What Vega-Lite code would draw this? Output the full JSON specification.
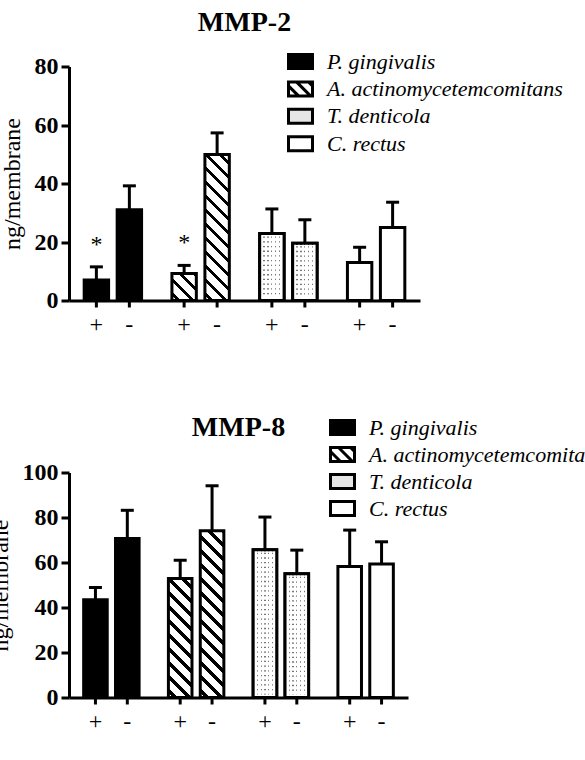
{
  "$schema": "https://vega.github.io/schema/vega-lite/v6.json",
  "background": "white",
  "padding": {"left": -12, "top": 8.5, "right": 0, "bottom": 0},
  "config": {"view": {"stroke": null}, "font": "Liberation Serif"},
  "datasets": {
    "mmp2": [
      {"species": "P. gingivalis", "treat": "+", "value": 7.0, "hi": 11.5, "sig": "*"},
      {"species": "P. gingivalis", "treat": "-", "value": 31.0, "hi": 39.2, "sig": ""},
      {"species": "A. actinomycetemcomitans", "treat": "+", "value": 9.2, "hi": 12.0, "sig": "*"},
      {"species": "A. actinomycetemcomitans", "treat": "-", "value": 49.9, "hi": 57.3, "sig": ""},
      {"species": "T. denticola", "treat": "+", "value": 22.9, "hi": 31.3, "sig": ""},
      {"species": "T. denticola", "treat": "-", "value": 19.6, "hi": 27.6, "sig": ""},
      {"species": "C. rectus", "treat": "+", "value": 13.0, "hi": 18.2, "sig": ""},
      {"species": "C. rectus", "treat": "-", "value": 25.0, "hi": 33.6, "sig": ""}
    ],
    "mmp8": [
      {"species": "P. gingivalis", "treat": "+", "value": 43.4, "hi": 48.9, "sig": ""},
      {"species": "P. gingivalis", "treat": "-", "value": 70.7, "hi": 83.2, "sig": ""},
      {"species": "A. actinomycetemcomitans", "treat": "+", "value": 52.9, "hi": 61.0, "sig": ""},
      {"species": "A. actinomycetemcomitans", "treat": "-", "value": 74.1, "hi": 94.1, "sig": ""},
      {"species": "T. denticola", "treat": "+", "value": 65.7, "hi": 80.2, "sig": ""},
      {"species": "T. denticola", "treat": "-", "value": 55.0, "hi": 65.5, "sig": ""},
      {"species": "C. rectus", "treat": "+", "value": 58.2, "hi": 74.4, "sig": ""},
      {"species": "C. rectus", "treat": "-", "value": 59.3, "hi": 69.2, "sig": ""}
    ]
  },
  "spacing": 77,
  "resolve": {"scale": {"x": "independent", "xOffset": "independent", "y": "independent", "fill": "independent", "shape": "independent", "stroke": "independent"}, "legend": {"fill": "independent", "shape": "independent", "stroke": "independent"}},
  "vconcat": [
    {
      "data": {"name": "mmp2"},
      "width": 351,
      "height": 234,
      "title": {"text": "MMP-2", "font": "Liberation Serif", "fontSize": 28, "fontWeight": "bold", "color": "black", "anchor": "middle", "frame": "group", "offset": 13.5},
      "encoding": {
        "x": {"field": "species", "type": "nominal", "sort": ["P. gingivalis", "A. actinomycetemcomitans", "T. denticola", "C. rectus"], "scale": {"paddingInner": 0, "paddingOuter": 0}, "axis": {"title": null, "labels": false, "ticks": false, "domainColor": "black", "domainWidth": 3}},
        "xOffset": {"field": "treat", "type": "nominal", "sort": ["+", "-"], "scale": {"paddingInner": 0.26, "paddingOuter": 0.46}}
      },
      "layer": [
        {
          "mark": {"type": "bar", "stroke": "black", "strokeWidth": 3},
          "encoding": {
            "y": {"field": "value", "type": "quantitative", "scale": {"domain": [0, 80], "nice": false},
              "axis": {"title": "ng/membrane", "titleFont": "Liberation Serif", "titleFontSize": 24, "titleFontWeight": "normal", "titleColor": "black", "titlePadding": 10, "values": [0, 20, 40, 60, 80], "labelFont": "Liberation Serif", "labelFontSize": 24, "labelFontWeight": "bold", "labelColor": "black", "labelPadding": 3, "tickSize": 8, "tickWidth": 3, "tickColor": "black", "domainColor": "black", "domainWidth": 3, "grid": false, "labelFlush": false, "labelOverlap": false}},
            "fill": {
              "condition": [
                {"test": "datum.species === 'P. gingivalis'", "value": "black"},
                {"test": "datum.species === 'A. actinomycetemcomitans' && datum.treat === '+'", "value": {"gradient": "linear", "x1": 0, "y1": 1, "x2": 0.9475, "y2": -0.0476, "stops": [
                  {"offset": 0, "color": "white"},
                  {"offset": 0.0917, "color": "white"}, {"offset": 0.0917, "color": "black"}, {"offset": 0.1815, "color": "black"}, {"offset": 0.1815, "color": "white"},
                  {"offset": 0.3649, "color": "white"}, {"offset": 0.3649, "color": "black"}, {"offset": 0.4546, "color": "black"}, {"offset": 0.4546, "color": "white"},
                  {"offset": 0.6380, "color": "white"}, {"offset": 0.6380, "color": "black"}, {"offset": 0.7278, "color": "black"}, {"offset": 0.7278, "color": "white"},
                  {"offset": 0.9112, "color": "white"}, {"offset": 0.9112, "color": "black"}, {"offset": 1, "color": "black"}]}},
                {"test": "datum.species === 'A. actinomycetemcomitans' && datum.treat === '-'", "value": {"gradient": "linear", "x1": 0, "y1": 1, "x2": 0.1893, "y2": -0.1353, "stops": [
                  {"offset": 0, "color": "white"},
                  {"offset": 0.0276, "color": "white"}, {"offset": 0.0276, "color": "black"}, {"offset": 0.0546, "color": "black"}, {"offset": 0.0546, "color": "white"},
                  {"offset": 0.1098, "color": "white"}, {"offset": 0.1098, "color": "black"}, {"offset": 0.1368, "color": "black"}, {"offset": 0.1368, "color": "white"},
                  {"offset": 0.1920, "color": "white"}, {"offset": 0.1920, "color": "black"}, {"offset": 0.2190, "color": "black"}, {"offset": 0.2190, "color": "white"},
                  {"offset": 0.2742, "color": "white"}, {"offset": 0.2742, "color": "black"}, {"offset": 0.3012, "color": "black"}, {"offset": 0.3012, "color": "white"},
                  {"offset": 0.3564, "color": "white"}, {"offset": 0.3564, "color": "black"}, {"offset": 0.3834, "color": "black"}, {"offset": 0.3834, "color": "white"},
                  {"offset": 0.4386, "color": "white"}, {"offset": 0.4386, "color": "black"}, {"offset": 0.4656, "color": "black"}, {"offset": 0.4656, "color": "white"},
                  {"offset": 0.5208, "color": "white"}, {"offset": 0.5208, "color": "black"}, {"offset": 0.5479, "color": "black"}, {"offset": 0.5479, "color": "white"},
                  {"offset": 0.6031, "color": "white"}, {"offset": 0.6031, "color": "black"}, {"offset": 0.6301, "color": "black"}, {"offset": 0.6301, "color": "white"},
                  {"offset": 0.6853, "color": "white"}, {"offset": 0.6853, "color": "black"}, {"offset": 0.7123, "color": "black"}, {"offset": 0.7123, "color": "white"},
                  {"offset": 0.7675, "color": "white"}, {"offset": 0.7675, "color": "black"}, {"offset": 0.7945, "color": "black"}, {"offset": 0.7945, "color": "white"},
                  {"offset": 0.8497, "color": "white"}, {"offset": 0.8497, "color": "black"}, {"offset": 0.8767, "color": "black"}, {"offset": 0.8767, "color": "white"},
                  {"offset": 0.9319, "color": "white"}, {"offset": 0.9319, "color": "black"}, {"offset": 0.9589, "color": "black"}, {"offset": 0.9589, "color": "white"},
                  {"offset": 1, "color": "white"}]}}
              ],
              "value": "white"
            }
          }
        },
        {
          "transform": [{"filter": "datum.species === 'T. denticola'"}],
          "mark": {"type": "rule", "stroke": "#777777", "strokeWidth": 19, "strokeDash": [1.3, 3.4], "yOffset": 3, "y2Offset": -3},
          "encoding": {"y": {"field": "value", "type": "quantitative"}, "y2": {"datum": 0}}
        },
        {
          "transform": [{"filter": "datum.species === 'T. denticola'"}],
          "mark": {"type": "bar", "stroke": "black", "strokeWidth": 3, "fill": {"gradient": "linear", "x1": 0, "y1": 0, "x2": 1, "y2": 0, "stops": [
            {"offset": 0, "color": "white"},
            {"offset": 0.155, "color": "white"}, {"offset": 0.155, "color": "rgba(255,255,255,0)"}, {"offset": 0.205, "color": "rgba(255,255,255,0)"}, {"offset": 0.205, "color": "white"},
            {"offset": 0.315, "color": "white"}, {"offset": 0.315, "color": "rgba(255,255,255,0)"}, {"offset": 0.365, "color": "rgba(255,255,255,0)"}, {"offset": 0.365, "color": "white"},
            {"offset": 0.475, "color": "white"}, {"offset": 0.475, "color": "rgba(255,255,255,0)"}, {"offset": 0.525, "color": "rgba(255,255,255,0)"}, {"offset": 0.525, "color": "white"},
            {"offset": 0.635, "color": "white"}, {"offset": 0.635, "color": "rgba(255,255,255,0)"}, {"offset": 0.685, "color": "rgba(255,255,255,0)"}, {"offset": 0.685, "color": "white"},
            {"offset": 0.795, "color": "white"}, {"offset": 0.795, "color": "rgba(255,255,255,0)"}, {"offset": 0.845, "color": "rgba(255,255,255,0)"}, {"offset": 0.845, "color": "white"},
            {"offset": 1, "color": "white"}]}},
          "encoding": {"y": {"field": "value", "type": "quantitative"}}
        },
        {
          "mark": {"type": "rule", "stroke": "black", "strokeWidth": 3},
          "encoding": {"y": {"field": "value", "type": "quantitative"}, "y2": {"field": "hi"}}
        },
        {
          "mark": {"type": "tick", "color": "black", "size": 13, "thickness": 3, "opacity": 1},
          "encoding": {"y": {"field": "hi", "type": "quantitative"}}
        },
        {
          "transform": [{"filter": "datum.sig === '*'"}],
          "mark": {"type": "text", "font": "Liberation Serif", "fontSize": 24, "color": "black", "baseline": "middle", "dy": -22},
          "encoding": {"y": {"field": "hi", "type": "quantitative"}, "text": {"field": "sig"}}
        },
        {
          "mark": {"type": "rule", "stroke": "black", "strokeWidth": 3, "y2Offset": 7},
          "encoding": {"y": {"datum": 0, "type": "quantitative"}, "y2": {"datum": 0}}
        },
        {
          "mark": {"type": "text", "font": "Liberation Serif", "fontSize": 24, "color": "black", "baseline": "middle", "dy": 24},
          "encoding": {"y": {"datum": 0, "type": "quantitative"}, "text": {"field": "treat"}}
        },
        {
          "transform": [{"filter": "false"}],
          "mark": {"type": "point", "filled": true, "strokeWidth": 3, "opacity": 1},
          "encoding": {
            "y": {"field": "value", "type": "quantitative"},
            "fill": {"field": "species", "type": "nominal", "scale": {"domain": ["P. gingivalis", "A. actinomycetemcomitans", "T. denticola", "C. rectus"], "range": ["black", "white", "#e6e6e6", "white"]},
              "legend": {"orient": "none", "legendX": 220, "legendY": -16.5, "title": null, "padding": 0, "rowPadding": 0.4, "labelFont": "Liberation Serif", "labelFontSize": 22, "labelFontStyle": "italic", "labelColor": "black", "labelOffset": 15, "labelLimit": 400, "symbolSize": 400, "symbolStrokeColor": "black", "symbolStrokeWidth": 3}},
            "stroke": {"field": "species", "type": "nominal", "scale": {"domain": ["P. gingivalis", "A. actinomycetemcomitans", "T. denticola", "C. rectus"], "range": ["black", "black", "black", "black"]},
              "legend": {"orient": "none", "legendX": 220, "legendY": -16.5, "title": null, "padding": 0, "rowPadding": 0.4, "labelFont": "Liberation Serif", "labelFontSize": 22, "labelFontStyle": "italic", "labelColor": "black", "labelOffset": 15, "labelLimit": 400, "symbolSize": 400, "symbolStrokeColor": "black", "symbolStrokeWidth": 3}},
            "shape": {"field": "species", "type": "nominal", "scale": {"domain": ["P. gingivalis", "A. actinomycetemcomitans", "T. denticola", "C. rectus"], "range": ["M-1.2,-0.7H1.2V0.7H-1.2Z", "M-1.2,-0.7H1.2V0.7H-1.2Z M-1.2,-0.3L-0.2,0.7 M-0.4,-0.7L1,0.7 M0.8,-0.7L1.2,-0.3", "M-1.2,-0.7H1.2V0.7H-1.2Z", "M-1.2,-0.7H1.2V0.7H-1.2Z"]},
              "legend": {"orient": "none", "legendX": 220, "legendY": -16.5, "title": null, "padding": 0, "rowPadding": 0.4, "labelFont": "Liberation Serif", "labelFontSize": 22, "labelFontStyle": "italic", "labelColor": "black", "labelOffset": 15, "labelLimit": 400, "symbolSize": 400, "symbolStrokeColor": "black", "symbolStrokeWidth": 3}}
          }
        }
      ]
    },
    {
      "data": {"name": "mmp8"},
      "width": 339,
      "height": 225,
      "title": {"text": "MMP-8", "font": "Liberation Serif", "fontSize": 28, "fontWeight": "bold", "color": "black", "anchor": "middle", "frame": "group", "offset": -26},
      "encoding": {
        "x": {"field": "species", "type": "nominal", "sort": ["P. gingivalis", "A. actinomycetemcomitans", "T. denticola", "C. rectus"], "scale": {"paddingInner": 0, "paddingOuter": 0}, "axis": {"title": null, "labels": false, "ticks": false, "domainColor": "black", "domainWidth": 3}},
        "xOffset": {"field": "treat", "type": "nominal", "sort": ["+", "-"], "scale": {"paddingInner": 0.26, "paddingOuter": 0.46}}
      },
      "layer": [
        {
          "mark": {"type": "bar", "stroke": "black", "strokeWidth": 3},
          "encoding": {
            "y": {"field": "value", "type": "quantitative", "scale": {"domain": [0, 100], "nice": false},
              "axis": {"title": "ng/membrane", "titleFont": "Liberation Serif", "titleFontSize": 24, "titleFontWeight": "normal", "titleColor": "black", "titlePadding": 10, "values": [0, 20, 40, 60, 80, 100], "labelFont": "Liberation Serif", "labelFontSize": 24, "labelFontWeight": "bold", "labelColor": "black", "labelPadding": 3, "tickSize": 8, "tickWidth": 3, "tickColor": "black", "domainColor": "black", "domainWidth": 3, "grid": false, "labelFlush": false, "labelOverlap": false}},
            "fill": {
              "condition": [
                {"test": "datum.species === 'P. gingivalis'", "value": "black"},
                {"test": "datum.species === 'A. actinomycetemcomitans' && datum.treat === '+'", "value": {"gradient": "linear", "x1": 0, "y1": 1, "x2": 0.2284, "y2": -0.1528, "stops": [
                  {"offset": 0, "color": "white"},
                  {"offset": 0.0330, "color": "white"}, {"offset": 0.0330, "color": "black"}, {"offset": 0.0652, "color": "black"}, {"offset": 0.0652, "color": "white"},
                  {"offset": 0.1311, "color": "white"}, {"offset": 0.1311, "color": "black"}, {"offset": 0.1634, "color": "black"}, {"offset": 0.1634, "color": "white"},
                  {"offset": 0.2293, "color": "white"}, {"offset": 0.2293, "color": "black"}, {"offset": 0.2616, "color": "black"}, {"offset": 0.2616, "color": "white"},
                  {"offset": 0.3275, "color": "white"}, {"offset": 0.3275, "color": "black"}, {"offset": 0.3597, "color": "black"}, {"offset": 0.3597, "color": "white"},
                  {"offset": 0.4257, "color": "white"}, {"offset": 0.4257, "color": "black"}, {"offset": 0.4579, "color": "black"}, {"offset": 0.4579, "color": "white"},
                  {"offset": 0.5238, "color": "white"}, {"offset": 0.5238, "color": "black"}, {"offset": 0.5561, "color": "black"}, {"offset": 0.5561, "color": "white"},
                  {"offset": 0.6220, "color": "white"}, {"offset": 0.6220, "color": "black"}, {"offset": 0.6543, "color": "black"}, {"offset": 0.6543, "color": "white"},
                  {"offset": 0.7202, "color": "white"}, {"offset": 0.7202, "color": "black"}, {"offset": 0.7525, "color": "black"}, {"offset": 0.7525, "color": "white"},
                  {"offset": 0.8184, "color": "white"}, {"offset": 0.8184, "color": "black"}, {"offset": 0.8506, "color": "black"}, {"offset": 0.8506, "color": "white"},
                  {"offset": 0.9166, "color": "white"}, {"offset": 0.9166, "color": "black"}, {"offset": 0.9488, "color": "black"}, {"offset": 0.9488, "color": "white"},
                  {"offset": 1, "color": "white"}]}},
                {"test": "datum.species === 'A. actinomycetemcomitans' && datum.treat === '-'", "value": {"gradient": "linear", "x1": 0, "y1": 1, "x2": 0.1583, "y2": -0.1189, "stops": [
                  {"offset": 0, "color": "white"},
                  {"offset": 0.0247, "color": "white"}, {"offset": 0.0247, "color": "black"}, {"offset": 0.0489, "color": "black"}, {"offset": 0.0489, "color": "white"},
                  {"offset": 0.0983, "color": "white"}, {"offset": 0.0983, "color": "black"}, {"offset": 0.1224, "color": "black"}, {"offset": 0.1224, "color": "white"},
                  {"offset": 0.1718, "color": "white"}, {"offset": 0.1718, "color": "black"}, {"offset": 0.1960, "color": "black"}, {"offset": 0.1960, "color": "white"},
                  {"offset": 0.2454, "color": "white"}, {"offset": 0.2454, "color": "black"}, {"offset": 0.2696, "color": "black"}, {"offset": 0.2696, "color": "white"},
                  {"offset": 0.3190, "color": "white"}, {"offset": 0.3190, "color": "black"}, {"offset": 0.3431, "color": "black"}, {"offset": 0.3431, "color": "white"},
                  {"offset": 0.3925, "color": "white"}, {"offset": 0.3925, "color": "black"}, {"offset": 0.4167, "color": "black"}, {"offset": 0.4167, "color": "white"},
                  {"offset": 0.4661, "color": "white"}, {"offset": 0.4661, "color": "black"}, {"offset": 0.4903, "color": "black"}, {"offset": 0.4903, "color": "white"},
                  {"offset": 0.5397, "color": "white"}, {"offset": 0.5397, "color": "black"}, {"offset": 0.5638, "color": "black"}, {"offset": 0.5638, "color": "white"},
                  {"offset": 0.6132, "color": "white"}, {"offset": 0.6132, "color": "black"}, {"offset": 0.6374, "color": "black"}, {"offset": 0.6374, "color": "white"},
                  {"offset": 0.6868, "color": "white"}, {"offset": 0.6868, "color": "black"}, {"offset": 0.7110, "color": "black"}, {"offset": 0.7110, "color": "white"},
                  {"offset": 0.7604, "color": "white"}, {"offset": 0.7604, "color": "black"}, {"offset": 0.7845, "color": "black"}, {"offset": 0.7845, "color": "white"},
                  {"offset": 0.8340, "color": "white"}, {"offset": 0.8340, "color": "black"}, {"offset": 0.8581, "color": "black"}, {"offset": 0.8581, "color": "white"},
                  {"offset": 0.9075, "color": "white"}, {"offset": 0.9075, "color": "black"}, {"offset": 0.9317, "color": "black"}, {"offset": 0.9317, "color": "white"},
                  {"offset": 0.9811, "color": "white"}, {"offset": 0.9811, "color": "black"}, {"offset": 1, "color": "black"}]}}
              ],
              "value": "white"
            }
          }
        },
        {
          "transform": [{"filter": "datum.species === 'T. denticola'"}],
          "mark": {"type": "rule", "stroke": "#777777", "strokeWidth": 18, "strokeDash": [1.3, 3.4], "yOffset": 3, "y2Offset": -3},
          "encoding": {"y": {"field": "value", "type": "quantitative"}, "y2": {"datum": 0}}
        },
        {
          "transform": [{"filter": "datum.species === 'T. denticola'"}],
          "mark": {"type": "bar", "stroke": "black", "strokeWidth": 3, "fill": {"gradient": "linear", "x1": 0, "y1": 0, "x2": 1, "y2": 0, "stops": [
            {"offset": 0, "color": "white"},
            {"offset": 0.155, "color": "white"}, {"offset": 0.155, "color": "rgba(255,255,255,0)"}, {"offset": 0.205, "color": "rgba(255,255,255,0)"}, {"offset": 0.205, "color": "white"},
            {"offset": 0.315, "color": "white"}, {"offset": 0.315, "color": "rgba(255,255,255,0)"}, {"offset": 0.365, "color": "rgba(255,255,255,0)"}, {"offset": 0.365, "color": "white"},
            {"offset": 0.475, "color": "white"}, {"offset": 0.475, "color": "rgba(255,255,255,0)"}, {"offset": 0.525, "color": "rgba(255,255,255,0)"}, {"offset": 0.525, "color": "white"},
            {"offset": 0.635, "color": "white"}, {"offset": 0.635, "color": "rgba(255,255,255,0)"}, {"offset": 0.685, "color": "rgba(255,255,255,0)"}, {"offset": 0.685, "color": "white"},
            {"offset": 0.795, "color": "white"}, {"offset": 0.795, "color": "rgba(255,255,255,0)"}, {"offset": 0.845, "color": "rgba(255,255,255,0)"}, {"offset": 0.845, "color": "white"},
            {"offset": 1, "color": "white"}]}},
          "encoding": {"y": {"field": "value", "type": "quantitative"}}
        },
        {
          "mark": {"type": "rule", "stroke": "black", "strokeWidth": 3},
          "encoding": {"y": {"field": "value", "type": "quantitative"}, "y2": {"field": "hi"}}
        },
        {
          "mark": {"type": "tick", "color": "black", "size": 13, "thickness": 3, "opacity": 1},
          "encoding": {"y": {"field": "hi", "type": "quantitative"}}
        },
        {
          "mark": {"type": "rule", "stroke": "black", "strokeWidth": 3, "y2Offset": 7},
          "encoding": {"y": {"datum": 0, "type": "quantitative"}, "y2": {"datum": 0}}
        },
        {
          "mark": {"type": "text", "font": "Liberation Serif", "fontSize": 24, "color": "black", "baseline": "middle", "dy": 24},
          "encoding": {"y": {"datum": 0, "type": "quantitative"}, "text": {"field": "treat"}}
        },
        {
          "transform": [{"filter": "false"}],
          "mark": {"type": "point", "filled": true, "strokeWidth": 3, "opacity": 1},
          "encoding": {
            "y": {"field": "value", "type": "quantitative"},
            "fill": {"field": "species", "type": "nominal", "scale": {"domain": ["P. gingivalis", "A. actinomycetemcomitans", "T. denticola", "C. rectus"], "range": ["black", "white", "#e6e6e6", "white"]},
              "legend": {"orient": "none", "legendX": 262, "legendY": -56.5, "title": null, "padding": 0, "rowPadding": 0, "labelFont": "Liberation Serif", "labelFontSize": 22, "labelFontStyle": "italic", "labelColor": "black", "labelOffset": 15, "labelLimit": 400, "symbolSize": 400, "symbolStrokeColor": "black", "symbolStrokeWidth": 3}},
            "stroke": {"field": "species", "type": "nominal", "scale": {"domain": ["P. gingivalis", "A. actinomycetemcomitans", "T. denticola", "C. rectus"], "range": ["black", "black", "black", "black"]},
              "legend": {"orient": "none", "legendX": 262, "legendY": -56.5, "title": null, "padding": 0, "rowPadding": 0, "labelFont": "Liberation Serif", "labelFontSize": 22, "labelFontStyle": "italic", "labelColor": "black", "labelOffset": 15, "labelLimit": 400, "symbolSize": 400, "symbolStrokeColor": "black", "symbolStrokeWidth": 3}},
            "shape": {"field": "species", "type": "nominal", "scale": {"domain": ["P. gingivalis", "A. actinomycetemcomitans", "T. denticola", "C. rectus"], "range": ["M-1.2,-0.7H1.2V0.7H-1.2Z", "M-1.2,-0.7H1.2V0.7H-1.2Z M-1.2,-0.3L-0.2,0.7 M-0.4,-0.7L1,0.7 M0.8,-0.7L1.2,-0.3", "M-1.2,-0.7H1.2V0.7H-1.2Z", "M-1.2,-0.7H1.2V0.7H-1.2Z"]},
              "legend": {"orient": "none", "legendX": 262, "legendY": -56.5, "title": null, "padding": 0, "rowPadding": 0, "labelFont": "Liberation Serif", "labelFontSize": 22, "labelFontStyle": "italic", "labelColor": "black", "labelOffset": 15, "labelLimit": 400, "symbolSize": 400, "symbolStrokeColor": "black", "symbolStrokeWidth": 3}}
          }
        }
      ]
    }
  ]
}
